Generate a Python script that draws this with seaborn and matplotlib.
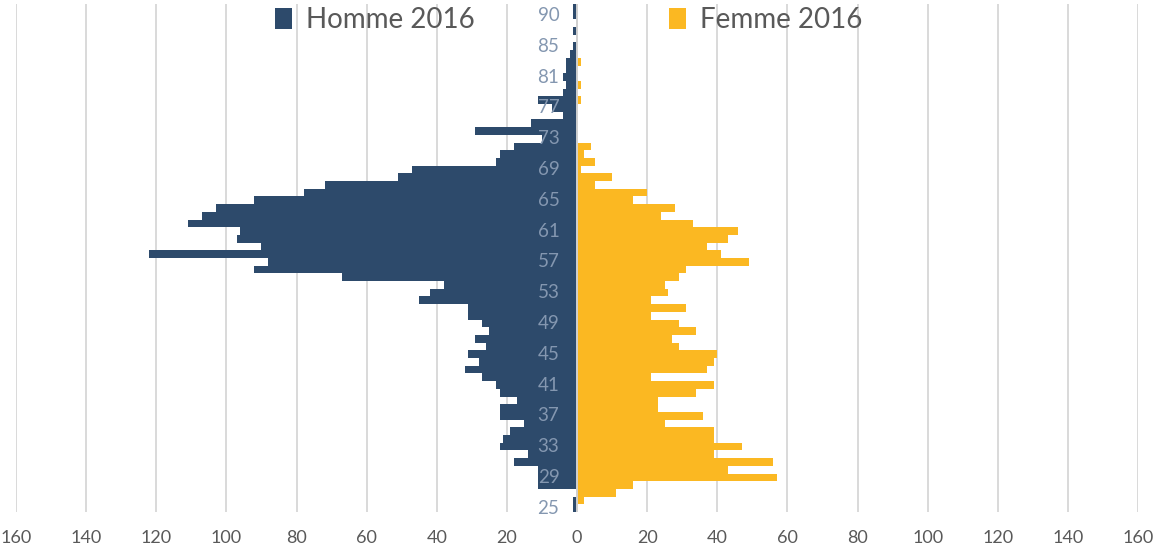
"""
Pyramide des âges 2016 — Homme / Femme
"""

import matplotlib.pyplot as plt
import pandas as pd
import seaborn as sns
from matplotlib.patches import Patch
from matplotlib.ticker import FuncFormatter, MultipleLocator

# Age categories, bottom to top (89 absent from the source)
AGES = list(range(25, 89)) + [90, 91]

HOMME_2016 = [
    1, 1, 0, 11, 11, 11, 18, 14, 22, 21,        # 25-34
    19, 15, 22, 22, 17, 22, 23, 27, 32, 28,     # 35-44
    31, 26, 29, 25, 27, 31, 31, 45, 42, 38,     # 45-54
    67, 92, 88, 122, 90, 97, 96, 111, 107, 103,  # 55-64
    92, 78, 72, 51, 47, 23, 22, 18, 10, 29,     # 65-74
    13, 4, 7, 11, 4, 3, 4, 3, 3, 2,             # 75-84
    1, 0, 1, 0, 1, 1,                           # 85-88, 90, 91
]

FEMME_2016 = [
    0, 2, 11, 16, 57, 43, 56, 39, 47, 39,
    39, 25, 36, 23, 23, 34, 39, 21, 37, 39,
    40, 29, 27, 34, 29, 21, 31, 21, 26, 25,
    29, 31, 49, 41, 37, 43, 46, 33, 24, 28,
    16, 20, 5, 10, 1, 5, 2, 4, 0, 0,
    0, 0, 0, 1, 0, 1, 0, 0, 1, 0,
    0, 0, 0, 0, 0, 0,
]

SERIES = ["Homme 2016", "Femme 2016"]
COLORS = {"Homme 2016": "#2d4a6b", "Femme 2016": "#fbb822"}
LABEL_EVERY = 4

sns.set_theme(style="white")
plt.rcParams["font.family"] = ["Lato", "DejaVu Sans"]


def build_frame() -> pd.DataFrame:
    ages = [str(a) for a in AGES]
    homme = pd.DataFrame({"age": ages, "value": [-v for v in HOMME_2016], "sexe": SERIES[0]})
    femme = pd.DataFrame({"age": ages, "value": FEMME_2016, "sexe": SERIES[1]})
    return pd.concat([homme, femme], ignore_index=True)


def main() -> None:
    df = build_frame()
    order = [str(a) for a in AGES][::-1]  # top of chart first

    fig = plt.figure(figsize=(11.56, 5.48), dpi=100)
    ax = fig.add_axes([16 / 1156, 1 - 512 / 548, 1122 / 1156, 508 / 548])

    sns.barplot(
        data=df, x="value", y="age", hue="sexe", order=order, hue_order=SERIES,
        palette=COLORS, saturation=1, orient="h", dodge=False, width=1.0,
        errorbar=None, linewidth=0, ax=ax, zorder=2,
    )
    if ax.get_legend() is not None:
        ax.get_legend().remove()

    ax.set_xlim(-160, 160)
    ax.set_ylim(len(order) - 0.5, -0.5)
    ax.xaxis.set_major_locator(MultipleLocator(20))
    ax.xaxis.set_major_formatter(FuncFormatter(lambda v, _: f"{abs(v):.0f}"))
    ax.grid(axis="x", color="#d9d9d9", linewidth=1.4, zorder=0)
    ax.set_axisbelow(True)
    ax.axvline(0, color="#d0d0d0", linewidth=1.4, zorder=3)
    ax.tick_params(axis="x", length=0, pad=13, labelsize=13, labelcolor="#595959")
    ax.set_yticks([])
    ax.set_xlabel("")
    ax.set_ylabel("")
    for side in ax.spines.values():
        side.set_visible(False)

    # age labels sit just left of the zero line
    for i, age in enumerate(AGES):
        if i % LABEL_EVERY:
            continue
        ax.text(-5, order.index(str(age)), str(age), ha="right", va="center",
                fontsize=13.5, color="#8497b0", zorder=4)

    handles = [Patch(facecolor=COLORS[s], edgecolor="none") for s in SERIES]
    fig.legend(
        handles, SERIES, loc="center", bbox_to_anchor=(0.492, 0.963), ncol=2,
        frameon=False, fontsize=20, labelcolor="#595959",
        handlelength=0.6, handleheight=0.75, handletextpad=0.5, columnspacing=7.0,
    )

    fig.savefig("out.png", dpi=100)
    plt.close(fig)


if __name__ == "__main__":
    main()
